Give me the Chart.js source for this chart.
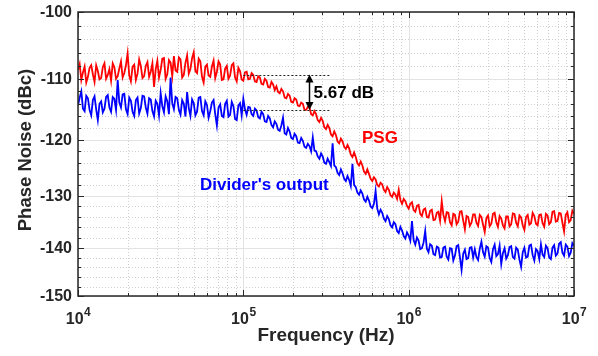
<!DOCTYPE html>
<html>
<head>
<meta charset="utf-8">
<script src="https://cdn.jsdelivr.net/npm/chart.js@4.4.1/dist/chart.umd.min.js"></script>
<style>
  html, body { margin: 0; padding: 0; background: #fff; }
  #wrap { width: 598px; height: 356px; }
</style>
</head>
<body>
<div id="wrap"><canvas id="pnChart" width="598" height="356"></canvas></div>
<script>
// log10 of offset frequency (Hz)
const logFreq = [
  4.00, 4.01, 4.02, 4.03, 4.04, 4.05, 4.06, 4.07, 4.08, 4.09, 4.10, 4.11, 4.12, 4.13, 4.14, 4.15, 4.16, 4.17, 4.18, 4.19,
  4.20, 4.21, 4.22, 4.23, 4.24, 4.25, 4.26, 4.27, 4.28, 4.29, 4.30, 4.31, 4.32, 4.33, 4.34, 4.35, 4.36, 4.37, 4.38, 4.39,
  4.40, 4.41, 4.42, 4.43, 4.44, 4.45, 4.46, 4.47, 4.48, 4.49, 4.50, 4.51, 4.52, 4.53, 4.54, 4.55, 4.56, 4.57, 4.58, 4.59,
  4.60, 4.61, 4.62, 4.63, 4.64, 4.65, 4.66, 4.67, 4.68, 4.69, 4.70, 4.71, 4.72, 4.73, 4.74, 4.75, 4.76, 4.77, 4.78, 4.79,
  4.80, 4.81, 4.82, 4.83, 4.84, 4.85, 4.86, 4.87, 4.88, 4.89, 4.90, 4.91, 4.92, 4.93, 4.94, 4.95, 4.96, 4.97, 4.98, 4.99,
  5.00, 5.01, 5.02, 5.03, 5.04, 5.05, 5.06, 5.07, 5.08, 5.09, 5.10, 5.11, 5.12, 5.13, 5.14, 5.15, 5.16, 5.17, 5.18, 5.19,
  5.20, 5.21, 5.22, 5.23, 5.24, 5.25, 5.26, 5.27, 5.28, 5.29, 5.30, 5.31, 5.32, 5.33, 5.34, 5.35, 5.36, 5.37, 5.38, 5.39,
  5.40, 5.41, 5.42, 5.43, 5.44, 5.45, 5.46, 5.47, 5.48, 5.49, 5.50, 5.51, 5.52, 5.53, 5.54, 5.55, 5.56, 5.57, 5.58, 5.59,
  5.60, 5.61, 5.62, 5.63, 5.64, 5.65, 5.66, 5.67, 5.68, 5.69, 5.70, 5.71, 5.72, 5.73, 5.74, 5.75, 5.76, 5.77, 5.78, 5.79,
  5.80, 5.81, 5.82, 5.83, 5.84, 5.85, 5.86, 5.87, 5.88, 5.89, 5.90, 5.91, 5.92, 5.93, 5.94, 5.95, 5.96, 5.97, 5.98, 5.99,
  6.00, 6.01, 6.02, 6.03, 6.04, 6.05, 6.06, 6.07, 6.08, 6.09, 6.10, 6.11, 6.12, 6.13, 6.14, 6.15, 6.16, 6.17, 6.18, 6.19,
  6.20, 6.21, 6.22, 6.23, 6.24, 6.25, 6.26, 6.27, 6.28, 6.29, 6.30, 6.31, 6.32, 6.33, 6.34, 6.35, 6.36, 6.37, 6.38, 6.39,
  6.40, 6.41, 6.42, 6.43, 6.44, 6.45, 6.46, 6.47, 6.48, 6.49, 6.50, 6.51, 6.52, 6.53, 6.54, 6.55, 6.56, 6.57, 6.58, 6.59,
  6.60, 6.61, 6.62, 6.63, 6.64, 6.65, 6.66, 6.67, 6.68, 6.69, 6.70, 6.71, 6.72, 6.73, 6.74, 6.75, 6.76, 6.77, 6.78, 6.79,
  6.80, 6.81, 6.82, 6.83, 6.84, 6.85, 6.86, 6.87, 6.88, 6.89, 6.90, 6.91, 6.92, 6.93, 6.94, 6.95, 6.96, 6.97, 6.98, 6.99,
  7.00
];

// PSG phase noise (dBc/Hz)
const psgNoise = [
  -108.6, -107.7, -110.2, -109.0, -108.1, -110.6, -109.7, -108.3, -107.9, -109.3, -110.5, -107.9, -108.8, -110.1, -109.9, -108.2, -107.6, -110.0, -109.4, -108.5,
  -110.3, -107.6, -108.2, -110.0, -109.6, -108.4, -107.3, -109.8, -109.1, -107.9, -106.1, -109.5, -110.4, -108.1, -107.8, -110.2, -109.2, -107.0, -108.0, -109.9,
  -109.6, -108.0, -107.4, -109.7, -108.9, -107.6, -111.3, -108.5, -107.2, -109.8, -108.6, -106.9, -106.8, -110.0, -109.3, -107.1, -107.5, -109.6, -106.5, -108.7,
  -108.9, -106.7, -107.0, -109.8, -109.4, -107.5, -106.4, -109.2, -108.5, -106.8, -105.9, -108.8, -109.1, -106.9, -107.3, -109.7, -110.6, -108.1, -107.8, -109.5,
  -109.7, -108.1, -107.2, -109.9, -108.9, -107.3, -107.8, -110.2, -110.1, -108.4, -108.0, -110.0, -109.5, -107.9, -107.6, -109.8, -110.4, -108.3, -108.8, -110.1,
  -110.3, -109.0, -108.9, -110.1, -110.0, -109.1, -109.4, -110.4, -110.5, -109.6, -109.8, -110.8, -110.9, -110.0, -110.3, -111.3, -111.4, -110.5, -110.9, -111.8,
  -111.2, -112.1, -112.3, -111.6, -112.0, -113.0, -113.1, -112.4, -112.7, -113.7, -113.8, -113.1, -113.3, -114.3, -114.4, -113.8, -114.0, -115.0, -115.0, -114.5,
  -114.6, -115.7, -115.9, -115.2, -115.7, -116.7, -117.0, -116.3, -116.8, -117.9, -118.2, -117.5, -118.0, -119.1, -119.4, -118.6, -119.2, -120.3, -120.6, -119.8,
  -120.3, -121.2, -121.6, -120.9, -121.5, -122.6, -123.0, -122.2, -123.0, -124.1, -124.5, -123.8, -124.5, -125.6, -126.0, -125.2, -126.0, -126.9, -127.3, -126.6,
  -127.0, -128.0, -128.3, -127.6, -127.9, -128.9, -129.3, -128.4, -128.9, -129.9, -130.2, -129.4, -129.8, -130.6, -128.9, -130.8, -131.5, -130.6, -131.0, -131.9,
  -132.4, -131.5, -131.2, -132.7, -133.0, -131.9, -131.7, -133.4, -133.8, -132.6, -132.4, -134.0, -134.1, -132.8, -132.6, -134.6, -134.5, -133.2, -133.0, -134.7,
  -131.0, -133.6, -134.8, -133.1, -133.2, -135.0, -135.6, -133.4, -133.6, -135.4, -134.9, -133.0, -132.9, -134.7, -136.4, -133.8, -134.0, -135.7, -135.1, -133.5,
  -133.5, -135.1, -135.7, -133.6, -134.0, -135.5, -136.9, -134.2, -133.7, -135.8, -135.3, -133.4, -133.2, -135.0, -135.9, -133.8, -134.3, -135.6, -136.2, -133.9,
  -133.9, -135.8, -135.4, -133.3, -133.4, -135.1, -135.8, -133.7, -134.1, -135.6, -136.5, -134.0, -133.6, -135.5, -135.2, -133.2, -133.8, -135.3, -135.6, -133.6,
  -133.5, -135.2, -135.9, -133.4, -133.7, -135.4, -135.0, -133.0, -132.9, -134.9, -134.8, -133.2, -133.3, -135.1, -136.8, -133.6, -133.1, -135.0, -134.6, -132.8,
  -133.4
];

// divider output phase noise (dBc/Hz)
const dividerNoise = [
  -114.3, -113.0, -112.0, -114.8, -115.2, -112.7, -113.1, -115.0, -115.9, -113.4, -112.8, -114.9, -116.7, -114.0, -113.6, -115.4, -114.8, -112.9, -112.6, -114.6,
  -115.3, -112.9, -113.2, -115.0, -110.2, -113.8, -114.6, -112.5, -112.4, -114.9, -115.7, -113.0, -113.5, -115.3, -116.0, -113.4, -113.0, -115.6, -114.7, -112.7,
  -112.8, -114.6, -115.6, -113.1, -113.3, -115.2, -116.1, -113.5, -114.0, -115.9, -112.3, -114.4, -115.4, -112.8, -113.6, -115.7, -109.8, -113.9, -114.9, -112.9,
  -113.1, -115.0, -115.8, -113.4, -114.0, -116.1, -112.1, -114.7, -116.0, -113.3, -113.9, -115.9, -115.3, -113.0, -112.9, -115.2, -115.9, -113.6, -114.2, -116.3,
  -115.2, -113.8, -113.4, -115.7, -117.6, -114.6, -114.1, -116.0, -116.2, -114.0, -113.5, -116.1, -115.8, -113.7, -114.4, -116.5, -116.7, -114.3, -113.9, -115.9,
  -113.2, -114.9, -115.8, -114.5, -114.6, -115.7, -116.0, -114.8, -115.1, -116.2, -116.4, -115.3, -115.7, -116.9, -117.0, -116.0, -116.4, -117.5, -117.9, -116.9,
  -117.3, -118.3, -118.5, -117.6, -116.3, -118.9, -119.1, -118.0, -118.6, -119.7, -119.9, -119.0, -119.4, -120.5, -120.6, -119.7, -120.2, -121.2, -121.4, -120.7,
  -121.1, -122.0, -119.6, -121.9, -122.0, -122.9, -123.3, -122.4, -122.9, -124.0, -124.2, -123.3, -123.9, -124.6, -120.6, -124.5, -124.8, -125.8, -126.2, -125.2,
  -125.9, -126.9, -127.3, -126.4, -127.1, -128.2, -124.2, -128.0, -128.4, -129.4, -129.8, -129.0, -129.6, -130.7, -131.1, -130.2, -130.9, -132.0, -132.3, -131.5,
  -129.1, -132.4, -133.5, -132.6, -133.2, -134.3, -134.8, -133.8, -134.4, -135.6, -136.0, -135.0, -135.4, -136.7, -137.1, -135.9, -136.6, -137.7, -138.2, -137.0,
  -137.6, -138.6, -134.8, -138.5, -139.4, -138.0, -138.6, -140.3, -140.1, -139.0, -136.7, -140.2, -140.9, -139.3, -139.6, -141.3, -141.5, -139.8, -140.0, -142.0,
  -141.9, -140.0, -139.8, -141.8, -142.4, -140.1, -140.2, -142.6, -141.6, -139.7, -139.5, -141.9, -144.5, -141.2, -140.4, -142.3, -142.1, -140.0, -139.9, -142.0,
  -140.3, -141.9, -142.5, -140.2, -138.8, -140.9, -141.8, -139.7, -140.0, -142.1, -142.9, -140.3, -139.4, -141.7, -141.3, -139.6, -143.3, -141.1, -140.1, -142.2,
  -141.5, -139.9, -139.7, -141.9, -142.2, -140.0, -140.4, -142.4, -143.9, -140.9, -140.0, -142.0, -141.8, -139.6, -139.4, -141.5, -142.6, -140.3, -140.7, -142.3,
  -139.3, -141.4, -141.9, -139.6, -140.1, -142.0, -142.3, -140.0, -139.5, -141.6, -141.2, -139.2, -138.9, -141.0, -141.6, -139.4, -139.8, -141.7, -141.0, -139.1,
  -139.6
];

// axis ticks
const xDecades = [4, 5, 6, 7];
const yTicks = [-100, -110, -120, -130, -140, -150];

// annotation: two levels with the gap between them
const gapLevels = [-109.35, -115.02];
const gapFreqRange = [1e5, 3.35e5];
const gapArrowFreq = 2.49e5;
const gapLabel = '5.67 dB';
const gapLabelPos = [2.66e5, -113.0];
const psgLabelPos = [5.22e5, -120.5];
const divLabelPos = [5.47e4, -128.9];

const FONT = "'Liberation Sans', Arial, sans-serif";
const AXIS_COLOR = '#262626';

// log scale on |dBc|, so values are negated for plotting
function toPoints(values) {
    return values.map((v, i) => ({ x: Math.pow(10, logFreq[i]), y: -v }));
}

const pnPlugin = {
    id: 'pnPlugin',
    beforeDatasetsDraw(chart) {
        const { ctx, chartArea: a, scales: { x, y } } = chart;
        ctx.save();
        ctx.lineWidth = 1;

        // minor grid (dotted)
        ctx.strokeStyle = '#cfcfcf';
        ctx.setLineDash([1, 2]);
        ctx.beginPath();
        for (let d = 4; d < 7; d++) {
            for (let k = 2; k <= 9; k++) {
                const px = Math.round(x.getPixelForValue(k * Math.pow(10, d))) + 0.5;
                ctx.moveTo(px, a.top); ctx.lineTo(px, a.bottom);
            }
        }
        for (let v = 102; v < 150; v += 2) {
            if (v % 10 === 0) continue;
            const py = Math.round(y.getPixelForValue(v)) + 0.5;
            ctx.moveTo(a.left, py); ctx.lineTo(a.right, py);
        }
        ctx.stroke();

        // major grid (solid)
        ctx.setLineDash([]);
        ctx.strokeStyle = '#e3e3e3';
        ctx.beginPath();
        xDecades.forEach(d => {
            const px = Math.round(x.getPixelForValue(Math.pow(10, d))) + 0.5;
            ctx.moveTo(px, a.top); ctx.lineTo(px, a.bottom);
        });
        yTicks.forEach(t => {
            const py = Math.round(y.getPixelForValue(-t)) + 0.5;
            ctx.moveTo(a.left, py); ctx.lineTo(a.right, py);
        });
        ctx.stroke();
        ctx.restore();
    },
    afterDatasetsDraw(chart) {
        const { ctx, chartArea: a, scales: { x, y } } = chart;
        ctx.save();

        // annotation: dotted levels
        ctx.strokeStyle = '#222';
        ctx.lineWidth = 1;
        ctx.setLineDash([2, 2]);
        ctx.beginPath();
        gapLevels.forEach(lv => {
            const py = Math.round(y.getPixelForValue(-lv)) + 0.5;
            ctx.moveTo(x.getPixelForValue(gapFreqRange[0]), py);
            ctx.lineTo(x.getPixelForValue(gapFreqRange[1]), py);
        });
        ctx.stroke();
        ctx.setLineDash([]);

        // double arrow
        const ax = Math.round(x.getPixelForValue(gapArrowFreq)) + 0.5;
        const y1 = y.getPixelForValue(-gapLevels[0]);
        const y2 = y.getPixelForValue(-gapLevels[1]);
        ctx.strokeStyle = '#000';
        ctx.fillStyle = '#000';
        ctx.lineWidth = 1.5;
        ctx.beginPath();
        ctx.moveTo(ax, y1 + 6); ctx.lineTo(ax, y2 - 6);
        ctx.stroke();
        ctx.beginPath();
        ctx.moveTo(ax, y1); ctx.lineTo(ax - 4, y1 + 8); ctx.lineTo(ax + 4, y1 + 8); ctx.closePath();
        ctx.moveTo(ax, y2); ctx.lineTo(ax - 4, y2 - 8); ctx.lineTo(ax + 4, y2 - 8); ctx.closePath();
        ctx.fill();

        // text labels
        ctx.textBaseline = 'alphabetic';
        ctx.textAlign = 'left';
        ctx.font = 'bold 17px ' + FONT;
        ctx.fillStyle = '#000';
        ctx.fillText(gapLabel, x.getPixelForValue(gapLabelPos[0]), y.getPixelForValue(-gapLabelPos[1]));
        ctx.fillStyle = '#ff0000';
        ctx.fillText('PSG', x.getPixelForValue(psgLabelPos[0]), y.getPixelForValue(-psgLabelPos[1]));
        ctx.fillStyle = '#0000ff';
        ctx.fillText("Divider's output", x.getPixelForValue(divLabelPos[0]), y.getPixelForValue(-divLabelPos[1]));

        // frame
        ctx.strokeStyle = AXIS_COLOR;
        ctx.lineWidth = 1.5;
        ctx.strokeRect(a.left, a.top, a.right - a.left, a.bottom - a.top);

        // inward ticks on all four sides
        ctx.lineWidth = 1;
        ctx.beginPath();
        for (let d = 4; d <= 7; d++) {
            const major = Math.round(x.getPixelForValue(Math.pow(10, d))) + 0.5;
            ctx.moveTo(major, a.bottom); ctx.lineTo(major, a.bottom - 6);
            ctx.moveTo(major, a.top); ctx.lineTo(major, a.top + 6);
            if (d === 7) break;
            for (let k = 2; k <= 9; k++) {
                const px = Math.round(x.getPixelForValue(k * Math.pow(10, d))) + 0.5;
                ctx.moveTo(px, a.bottom); ctx.lineTo(px, a.bottom - 3);
                ctx.moveTo(px, a.top); ctx.lineTo(px, a.top + 3);
            }
        }
        for (let v = 100; v <= 150; v += 2) {
            const py = Math.round(y.getPixelForValue(v)) + 0.5;
            const len = v % 10 === 0 ? 6 : 3;
            ctx.moveTo(a.left, py); ctx.lineTo(a.left + len, py);
            ctx.moveTo(a.right, py); ctx.lineTo(a.right - len, py);
        }
        ctx.stroke();

        // y tick labels
        ctx.fillStyle = AXIS_COLOR;
        ctx.font = 'bold 16px ' + FONT;
        ctx.textAlign = 'right';
        ctx.textBaseline = 'middle';
        yTicks.forEach(t => {
            ctx.fillText(String(t), a.left - 6, y.getPixelForValue(-t) + 1);
        });

        // x tick labels: 10 with superscript exponent
        ctx.textBaseline = 'alphabetic';
        ctx.textAlign = 'left';
        xDecades.forEach(d => {
            const px = x.getPixelForValue(Math.pow(10, d));
            ctx.font = 'bold 16px ' + FONT;
            const wBase = ctx.measureText('10').width;
            ctx.font = 'bold 12px ' + FONT;
            const wExp = ctx.measureText(String(d)).width;
            const left = px - (wBase + wExp) / 2;
            ctx.font = 'bold 16px ' + FONT;
            ctx.fillText('10', left, a.bottom + 28);
            ctx.font = 'bold 12px ' + FONT;
            ctx.fillText(String(d), left + wBase + 0.5, a.bottom + 20);
        });

        // axis titles
        ctx.font = 'bold 19px ' + FONT;
        ctx.textAlign = 'center';
        ctx.fillText('Frequency (Hz)', (a.left + a.right) / 2, a.bottom + 45);
        ctx.save();
        ctx.translate(31, 150);
        ctx.rotate(-Math.PI / 2);
        ctx.font = 'bold 18.5px ' + FONT;
        ctx.fillText('Phase Noise (dBc)', 0, 0);
        ctx.restore();

        ctx.restore();
    }
};

new Chart(document.getElementById('pnChart'), {
    type: 'line',
    data: {
        datasets: [
            {
                label: 'Divider\'s output',
                data: toPoints(dividerNoise),
                borderColor: '#0000ff',
                borderWidth: 1.8,
                pointRadius: 0,
                fill: false,
                tension: 0
            },
            {
                label: 'PSG',
                data: toPoints(psgNoise),
                borderColor: '#ff0000',
                borderWidth: 1.8,
                pointRadius: 0,
                fill: false,
                tension: 0
            }
        ]
    },
    options: {
        responsive: false,
        animation: false,
        devicePixelRatio: 1,
        layout: { padding: { top: 12, right: 24, left: 0, bottom: 0 } },
        plugins: { legend: { display: false }, tooltip: { enabled: false } },
        scales: {
            x: {
                type: 'logarithmic',
                min: 1e4,
                max: 1e7,
                grid: { display: false },
                border: { display: false },
                ticks: { display: false },
                afterFit(scale) { scale.height = 60; }
            },
            y: {
                type: 'logarithmic',
                reverse: true,
                min: 100,
                max: 150,
                grid: { display: false },
                border: { display: false },
                ticks: { display: false },
                afterFit(scale) { scale.width = 78; }
            }
        }
    },
    plugins: [pnPlugin]
});
</script>
</body>
</html>
